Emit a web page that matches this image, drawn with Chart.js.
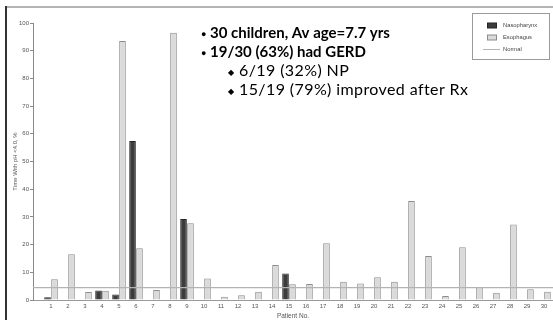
<!DOCTYPE html>
<html>
<head>
<meta charset="utf-8">
<script src="https://cdn.jsdelivr.net/npm/chart.js@4/dist/chart.umd.min.js"></script>
<style>
  html, body { margin: 0; padding: 0; background: #ffffff; }
  #wrap { position: relative; width: 553px; height: 320px; }
</style>
</head>
<body>
<div id="wrap"><canvas id="c" width="553" height="320"></canvas></div>
<script>
// Patient numbers along the x axis
const patients = [1,2,3,4,5,6,7,8,9,10,11,12,13,14,15,16,17,18,19,20,21,22,23,24,25,26,27,28,29,30];

// % of time with pH < 4.0, per probe site (null = no reading drawn)
const nasopharynx = [1.0, null, null, 3.4, 2.0, 57.4, null, null, 29.2, null,
                     null, null, null, null, 9.6, null, null, null, null, null,
                     null, null, null, null, null, null, null, null, null, null];
const esophagus   = [7.5, 16.5, 2.9, 3.3, 93.5, 18.7, 3.6, 96.5, 27.7, 7.8,
                     1.2, 1.7, 3.0, 12.6, 5.7, 5.8, 20.5, 6.6, 6.0, 8.2,
                     6.6, 35.7, 15.9, 1.4, 19.0, 4.6, 2.6, 27.3, 3.9, 3.0];

// Upper limit of normal
const normalLevel = 4.5;

// Axis ticks
const yTicks = [0, 10, 20, 30, 40, 50, 60, 70, 80, 90, 100];
const xRange = [-0.06, 30.53];

// Summary notes shown on the chart
const notes = [
  { bullet: '\u25CF', text: '30 children, Av age=7.7 yrs', bold: true, indent: 0 },
  { bullet: '\u25CF', text: '19/30 (63%) had GERD', bold: true, indent: 0 },
  { bullet: '\u25C6', text: '6/19 (32%) NP', bold: false, indent: 1 },
  { bullet: '\u25C6', text: '15/19 (79%) improved after Rx', bold: false, indent: 1 }
];

const pts = (vals) => patients.map((p, i) => ({ x: p, y: vals[i] }));

const FONT = 'Liberation Sans, Arial, sans-serif';

// Slide frame, summary notes and boxed legend
const decorations = {
  id: 'decorations',
  afterDraw(chart) {
    const ctx = chart.ctx;
    ctx.save();
    // frame lines
    ctx.fillStyle = '#b4b4b4';
    ctx.fillRect(5, 6, 548, 2);
    ctx.fillStyle = '#333333';
    ctx.fillRect(5, 6, 2, 314);

    // notes
    ctx.fillStyle = '#000000';
    ctx.textBaseline = 'alphabetic';
    const baseY = [38, 57, 76, 95];
    notes.forEach((n, i) => {
      if (n.indent) {
        ctx.letterSpacing = '0px';
        ctx.font = '8px ' + FONT;
        ctx.fillText(n.bullet, 228, baseY[i] - 1);
        ctx.letterSpacing = '0.4px';
        ctx.font = '16px Lato, sans-serif';
        ctx.fillText(n.text, 239, baseY[i]);
      } else {
        ctx.letterSpacing = '0px';
        ctx.font = '9px ' + FONT;
        ctx.fillText(n.bullet, 201, baseY[i] - 1);
        ctx.font = 'bold 15px Lato, sans-serif';
        ctx.fillText(n.text, 210, baseY[i]);
      }
    });
    ctx.letterSpacing = '0px';

    // legend box built from the datasets
    ctx.strokeStyle = '#9a9a9a';
    ctx.lineWidth = 1;
    ctx.strokeRect(472.5, 13.5, 77, 46);
    const rows = [25.5, 37.5, 49];
    chart.data.datasets.forEach((ds, i) => {
      const y = rows[i];
      if (ds.type === 'line') {
        ctx.strokeStyle = ds.borderColor;
        ctx.lineWidth = 1;
        ctx.beginPath();
        ctx.moveTo(483, y + 0.5);
        ctx.lineTo(500, y + 0.5);
        ctx.stroke();
      } else {
        ctx.fillStyle = ds.backgroundColor;
        ctx.fillRect(487, y - 2.5, 9, 5);
        ctx.strokeStyle = ds.borderColor;
        ctx.strokeRect(487.5, y - 2.5, 9, 5);
      }
      ctx.fillStyle = '#444444';
      ctx.font = '5.8px ' + FONT;
      ctx.textBaseline = 'middle';
      ctx.fillText(ds.label, 503, y);
    });
    ctx.restore();
  }
};

new Chart(document.getElementById('c'), {
  type: 'bar',
  data: {
    datasets: [
      {
        label: 'Nasopharynx',
        data: pts(nasopharynx),
        backgroundColor: '#3c3c3c',
        borderColor: '#262626',
        borderWidth: 1,
        categoryPercentage: 0.82,
        barPercentage: 0.95,
        order: 2
      },
      {
        label: 'Esophagus',
        data: pts(esophagus),
        backgroundColor: '#dadada',
        borderColor: '#8c8c8c',
        borderWidth: 1,
        categoryPercentage: 0.82,
        barPercentage: 0.95,
        order: 2
      },
      {
        type: 'line',
        label: 'Normal',
        data: [{ x: xRange[0], y: normalLevel }, { x: xRange[1], y: normalLevel }],
        borderColor: '#b3b3b3',
        borderWidth: 1.2,
        pointRadius: 0,
        order: 1
      }
    ]
  },
  options: {
    responsive: false,
    animation: false,
    events: [],
    layout: { padding: { top: 23, right: 0, bottom: 0, left: 0 } },
    plugins: { legend: { display: false }, tooltip: { enabled: false } },
    scales: {
      x: {
        type: 'linear',
        offset: false,
        min: xRange[0],
        max: xRange[1],
        afterBuildTicks: (s) => { s.ticks = patients.map(v => ({ value: v })); },
        afterFit: (s) => { s.height = 20; },
        grid: { display: false, drawTicks: false, offset: false },
        border: { display: true, color: '#9a9a9a', width: 1 },
        ticks: {
          padding: 3,
          autoSkip: false,
          maxRotation: 0,
          color: '#555555',
          font: { family: FONT, size: 6 }
        },
        title: {
          display: true,
          text: 'Patient No.',
          color: '#555555',
          font: { family: FONT, size: 6.5 },
          padding: { top: 0, bottom: 0 }
        }
      },
      y: {
        min: 0,
        max: 100,
        afterBuildTicks: (s) => { s.ticks = yTicks.map(v => ({ value: v })); },
        afterFit: (s) => { s.width = 33; },
        grid: { drawOnChartArea: false, drawTicks: true, tickLength: 3, color: '#8a8a8a' },
        border: { display: true, color: '#8a8a8a', width: 1 },
        ticks: {
          padding: 1,
          color: '#555555',
          font: { family: FONT, size: 6 }
        },
        title: {
          display: true,
          text: 'Time With pH <4.0, %',
          color: '#555555',
          font: { family: FONT, size: 6 },
          padding: { top: 12, bottom: 0 }
        }
      }
    }
  },
  plugins: [decorations]
});
</script>
</body>
</html>
